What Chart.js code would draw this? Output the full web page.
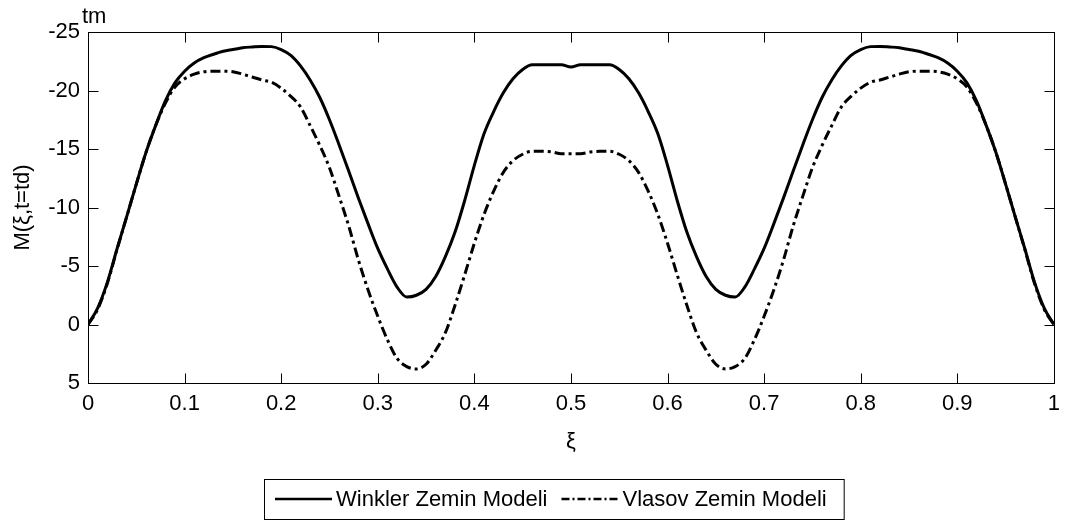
<!DOCTYPE html>
<html>
<head>
<meta charset="utf-8">
<script src="https://cdn.jsdelivr.net/npm/chart.js@4.4.1/dist/chart.umd.min.js"></script>
<style>
  html, body { margin: 0; padding: 0; background: #fff; }
</style>
</head>
<body>
<canvas id="chart" width="1068" height="523"></canvas>
<script>
// beam position along the span (normalised)
const xi = [
  0.00, 0.01, 0.02, 0.03, 0.04, 0.05, 0.06, 0.07, 0.08, 0.09,
  0.10, 0.11, 0.12, 0.13, 0.14, 0.15, 0.16, 0.17, 0.18, 0.19,
  0.20, 0.21, 0.22, 0.23, 0.24, 0.25, 0.26, 0.27, 0.28, 0.29,
  0.30, 0.31, 0.32, 0.33, 0.34, 0.35, 0.36, 0.37, 0.38, 0.39,
  0.40, 0.41, 0.42, 0.43, 0.44, 0.45, 0.46, 0.47, 0.48, 0.49,
  0.50, 0.51, 0.52, 0.53, 0.54, 0.55, 0.56, 0.57, 0.58, 0.59,
  0.60, 0.61, 0.62, 0.63, 0.64, 0.65, 0.66, 0.67, 0.68, 0.69,
  0.70, 0.71, 0.72, 0.73, 0.74, 0.75, 0.76, 0.77, 0.78, 0.79,
  0.80, 0.81, 0.82, 0.83, 0.84, 0.85, 0.86, 0.87, 0.88, 0.89,
  0.90, 0.91, 0.92, 0.93, 0.94, 0.95, 0.96, 0.97, 0.98, 0.99,
  1.00
];

// bending moment M(xi, t=td) in tm
const winklerM = [
  0, -1.4, -3.6, -6.45, -9.2, -12.0, -14.7, -17.0, -19.1, -20.65,
  -21.65, -22.35, -22.8, -23.1, -23.35, -23.5, -23.65, -23.72, -23.77, -23.75,
  -23.5, -23.0, -22.1, -20.9, -19.4, -17.5, -15.35, -13.1, -10.8, -8.6,
  -6.5, -4.75, -3.2, -2.35, -2.5, -3.0, -4.1, -5.8, -7.9, -10.6,
  -13.6, -16.3, -18.2, -19.8, -21.0, -21.8, -22.2, -22.2, -22.2, -22.2,
  -22.0, -22.2, -22.2, -22.2, -22.2, -21.8, -21.0, -19.8, -18.2, -16.3,
  -13.6, -10.6, -7.9, -5.8, -4.1, -3.0, -2.5, -2.35, -3.2, -4.75,
  -6.5, -8.6, -10.8, -13.1, -15.35, -17.5, -19.4, -20.9, -22.1, -23.0,
  -23.5, -23.75, -23.77, -23.72, -23.65, -23.5, -23.35, -23.1, -22.8, -22.35,
  -21.65, -20.65, -19.1, -17.0, -14.7, -12.0, -9.2, -6.45, -3.6, -1.4,
  0
];

const vlasovM = [
  0, -1.3, -3.5, -6.4, -9.2, -12.0, -14.7, -17.0, -18.9, -20.3,
  -21.0, -21.4, -21.6, -21.65, -21.65, -21.6, -21.4, -21.15, -20.9, -20.7,
  -20.2, -19.5, -18.6, -17.0, -15.3, -13.4, -10.95, -8.4, -5.5, -2.95,
  -0.7, 1.3, 2.9, 3.6, 3.8, 3.4, 2.2, 0.7, -1.65, -4.25,
  -6.95, -9.4, -11.4, -13.0, -14.0, -14.55, -14.8, -14.8, -14.75, -14.6,
  -14.6, -14.6, -14.75, -14.8, -14.8, -14.55, -14.0, -13.0, -11.4, -9.4,
  -6.95, -4.25, -1.65, 0.7, 2.2, 3.4, 3.8, 3.6, 2.9, 1.3,
  -0.7, -2.95, -5.5, -8.4, -10.95, -13.4, -15.3, -17.0, -18.6, -19.5,
  -20.2, -20.7, -20.9, -21.15, -21.4, -21.6, -21.65, -21.65, -21.6, -21.4,
  -21.0, -20.3, -18.9, -17.0, -14.7, -12.0, -9.2, -6.4, -3.5, -1.3,
  0
];

const xTicks = [0, 0.1, 0.2, 0.3, 0.4, 0.5, 0.6, 0.7, 0.8, 0.9, 1];
const yTicks = [-25, -20, -15, -10, -5, 0, 5];
const seriesNames = ['Winkler Zemin Modeli', 'Vlasov Zemin Modeli'];
const xTitle = 'ξ';
const yTitle = 'M(ξ,t=td)';
const yUnit = 'tm';

const FONT = "'Liberation Sans', Arial, sans-serif";
const FONT_SIZE = 22;
const dashDot = [10, 4, 3, 4];

function toPoints(ys) {
  return xi.map((x, i) => ({ x: x, y: ys[i] }));
}

// MATLAB-like frame: closed box, inward ticks, unit label and a boxed legend
const framePlugin = {
  id: 'frame',
  afterDraw(chart) {
    const ctx = chart.ctx;
    const area = chart.chartArea;
    const xs = chart.scales.x;
    const ys = chart.scales.y;
    const L = Math.round(area.left) + 0.5;
    const R = Math.round(area.right) + 0.5;
    const T = Math.round(area.top) + 0.5;
    const B = Math.round(area.bottom) + 0.5;
    const tick = 10;

    ctx.save();
    ctx.strokeStyle = '#000';
    ctx.lineWidth = 1;
    ctx.strokeRect(L, T, R - L, B - T);

    ctx.beginPath();
    xTicks.forEach(v => {
      const px = Math.round(xs.getPixelForValue(v)) + 0.5;
      ctx.moveTo(px, B); ctx.lineTo(px, B - tick);
      ctx.moveTo(px, T); ctx.lineTo(px, T + tick);
    });
    yTicks.forEach(v => {
      const py = Math.round(ys.getPixelForValue(v)) + 0.5;
      ctx.moveTo(L, py); ctx.lineTo(L + tick, py);
      ctx.moveTo(R, py); ctx.lineTo(R - tick, py);
    });
    ctx.stroke();

    // unit above the y axis
    ctx.fillStyle = '#000';
    ctx.font = FONT_SIZE + 'px ' + FONT;
    ctx.textAlign = 'left';
    ctx.textBaseline = 'alphabetic';
    ctx.fillText(yUnit, 82, 23);

    // legend box below the plot
    const ds = chart.data.datasets;
    const lx = 264, ly = 479, lh = 40;
    const sampleLen = 57;
    let cx = lx + 11;
    const cy = ly + lh / 2;
    const items = ds.map(d => {
      const item = { x: cx, tx: cx + sampleLen + 4, label: d.label, dash: d.borderDash || [] };
      cx = item.tx + ctx.measureText(d.label).width + 14;
      return item;
    });
    const lw = cx - lx + 3;
    ctx.fillStyle = '#fff';
    ctx.fillRect(lx, ly, lw, lh);
    ctx.strokeStyle = '#000';
    ctx.lineWidth = 1;
    ctx.setLineDash([]);
    ctx.strokeRect(lx + 0.5, ly + 0.5, lw, lh);

    items.forEach(it => {
      ctx.beginPath();
      ctx.lineWidth = 2.5;
      ctx.setLineDash(it.dash.length ? [8, 3, 2, 3] : []);
      ctx.moveTo(it.x, cy);
      ctx.lineTo(it.x + sampleLen, cy);
      ctx.stroke();
      ctx.setLineDash([]);
      ctx.fillStyle = '#000';
      ctx.textBaseline = 'middle';
      ctx.fillText(it.label, it.tx, cy + 1);
    });
    ctx.restore();
  }
};

new Chart(document.getElementById('chart'), {
  type: 'line',
  data: {
    datasets: [
      {
        label: seriesNames[0],
        data: toPoints(winklerM),
        borderColor: '#000',
        borderWidth: 3,
        pointRadius: 0,
        cubicInterpolationMode: 'monotone',
        fill: false
      },
      {
        label: seriesNames[1],
        data: toPoints(vlasovM),
        borderColor: '#000',
        borderWidth: 3,
        borderDash: dashDot,
        pointRadius: 0,
        cubicInterpolationMode: 'monotone',
        fill: false
      }
    ]
  },
  options: {
    responsive: false,
    animation: false,
    devicePixelRatio: 1,
    layout: { padding: { top: 32, right: 12, bottom: 58, left: 0 } },
    plugins: {
      legend: { display: false },
      tooltip: { enabled: false }
    },
    scales: {
      x: {
        type: 'linear',
        min: 0,
        max: 1,
        afterBuildTicks: s => { s.ticks = xTicks.map(v => ({ value: v })); },
        afterFit: s => { s.height = 82; },
        grid: { display: false, drawTicks: false },
        border: { display: false },
        ticks: {
          color: '#000',
          padding: 8,
          maxRotation: 0,
          autoSkip: false,
          font: { family: FONT, size: FONT_SIZE },
          callback: v => String(v)
        },
        title: {
          display: true,
          text: xTitle,
          color: '#000',
          font: { family: FONT, size: FONT_SIZE },
          padding: { top: 0, bottom: 10 }
        }
      },
      y: {
        type: 'linear',
        reverse: true,
        min: -25,
        max: 5,
        afterBuildTicks: s => { s.ticks = yTicks.map(v => ({ value: v })); },
        afterFit: s => { s.width = 88; },
        grid: { display: false, drawTicks: false },
        border: { display: false },
        ticks: {
          color: '#000',
          padding: 8,
          autoSkip: false,
          font: { family: FONT, size: FONT_SIZE },
          callback: v => String(v)
        },
        title: {
          display: true,
          text: yTitle,
          color: '#000',
          font: { family: FONT, size: FONT_SIZE },
          padding: { top: 10, bottom: 0 }
        }
      }
    }
  },
  plugins: [framePlugin]
});
</script>
</body>
</html>
